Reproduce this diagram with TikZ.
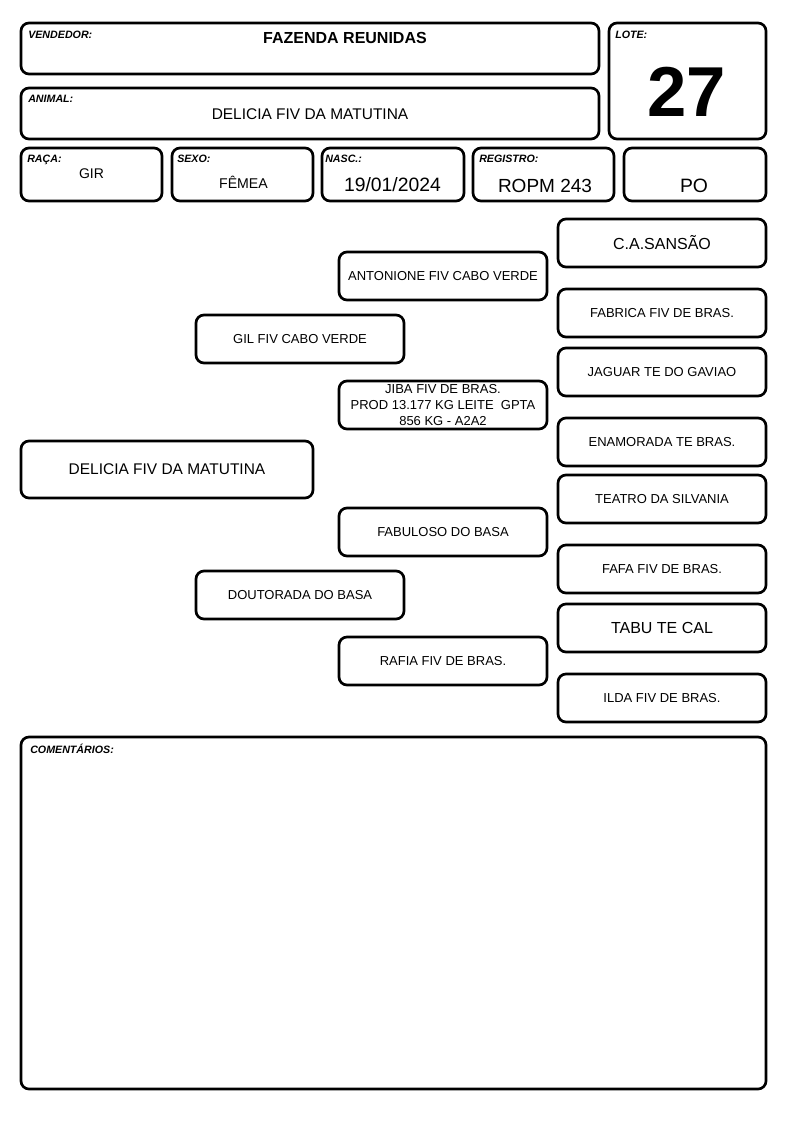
\documentclass[tikz,border=0pt]{standalone}
\usepackage{fontspec}
\setmainfont{Liberation Sans}
\tikzset{
  bx/.style={draw=black, line width=2pt, rounded corners=6pt, inner sep=0pt, align=center},
  ped/.style={bx, minimum width=156pt, minimum height=36pt, font=\fontsize{9.75}{12}\selectfont},
  pedbig/.style={bx, minimum width=156pt, minimum height=36pt, font=\fontsize{12}{14}\selectfont},
  lbl/.style={anchor=base west, inner sep=0pt, font=\fontsize{8}{9}\selectfont\bfseries\itshape},
  val/.style={anchor=base, inner sep=0pt},
}
\begin{document}
\begin{tikzpicture}[x=0.75pt,y=-0.75pt]
\useasboundingbox (0,0) rectangle (794,1123);
% header boxes
\node[bx, minimum width=433.5pt, minimum height=38.25pt] (vend) at (310,48.5) {};
\node[bx, minimum width=433.5pt, minimum height=38.25pt] (anim) at (310,113.5) {};
\node[bx, minimum width=117.75pt, minimum height=87pt] (lote) at (687.5,81) {};
\node[bx, minimum width=105.75pt, minimum height=39.75pt] (raca) at (91.5,174.5) {};
\node[bx, minimum width=105.75pt, minimum height=39.75pt] (sexo) at (242.5,174.5) {};
\node[bx, minimum width=106.5pt, minimum height=39.75pt] (nasc) at (393,174.5) {};
\node[bx, minimum width=105.75pt, minimum height=39.75pt] (reg) at (543.5,174.5) {};
\node[bx, minimum width=106.5pt, minimum height=39.75pt] (po) at (695,174.5) {};
% labels
\node[lbl] (lvend) at (28,38.5) {VENDEDOR:};
\node[lbl] (lanim) at (28,102.7) {ANIMAL:};
\node[lbl] (llote) at (615,39) {LOTE:};
\node[lbl] (lraca) at (27,162.5) {RAÇA:};
\node[lbl] (lsexo) at (177,163) {SEXO:};
\node[lbl] (lnasc) at (325,163) {NASC.:};
\node[lbl] (lreg) at (479,163) {REGISTRO:};
% values
\node[val, font=\fontsize{12}{14}\selectfont\bfseries] (vvend) at (345,43.3) {FAZENDA REUNIDAS};
\node[val, font=\fontsize{11.6}{14}\selectfont] (vanim) at (310,119.3) {DELICIA FIV DA MATUTINA};
\node[val, font=\fontsize{53}{60}\selectfont\bfseries] (vlote) at (686.5,116.7) {27};
\node[val, font=\fontsize{10.5}{12}\selectfont] (vraca) at (91.5,178.3) {GIR};
\node[val, font=\fontsize{10.6}{12}\selectfont] (vsexo) at (243.5,189) {FÊMEA};
\node[val, font=\fontsize{14.5}{16}\selectfont] (vnasc) at (392.5,191.7) {19/01/2024};
\node[val, font=\fontsize{14.25}{16}\selectfont] (vreg) at (545,192.3) {ROPM 243};
\node[val, font=\fontsize{14.5}{16}\selectfont] (vpo) at (694,192.3) {PO};
% pedigree
\node[bx, minimum width=219pt, minimum height=42.75pt, font=\fontsize{11.6}{14}\selectfont] (an) at (167,469.5) {DELICIA FIV DA MATUTINA};
\node[ped] (p) at (300,339) {GIL FIV CABO VERDE};
\node[ped] (m) at (300,595) {DOUTORADA DO BASA};
\node[ped] (pp) at (443,276) {ANTONIONE FIV CABO VERDE};
\node[ped, font=\fontsize{9.75}{12}\selectfont] (pm) at (443,405) {JIBA FIV DE BRAS.\\PROD 13.177 KG LEITE \ GPTA\\856 KG - A2A2};
\node[ped] (mp) at (443,532) {FABULOSO DO BASA};
\node[ped] (mm) at (443,661) {RAFIA FIV DE BRAS.};
\node[pedbig] (ppp) at (662,243) {C.A.SANSÃO};
\node[ped] (ppm) at (662,313) {FABRICA FIV DE BRAS.};
\node[ped] (pmp) at (662,372) {JAGUAR TE DO GAVIAO};
\node[ped] (pmm) at (662,442) {ENAMORADA TE BRAS.};
\node[ped] (mpp) at (662,499) {TEATRO DA SILVANIA};
\node[ped] (mpm) at (662,569) {FAFA FIV DE BRAS.};
\node[pedbig] (mmp) at (662,628) {TABU TE CAL};
\node[ped] (mmm) at (662,698) {ILDA FIV DE BRAS.};
% comments
\node[bx, minimum width=558.75pt, minimum height=264pt] (com) at (393.5,913) {};
\node[lbl] (lcom) at (30,753) {COMENTÁRIOS:};
\end{tikzpicture}
\end{document}
